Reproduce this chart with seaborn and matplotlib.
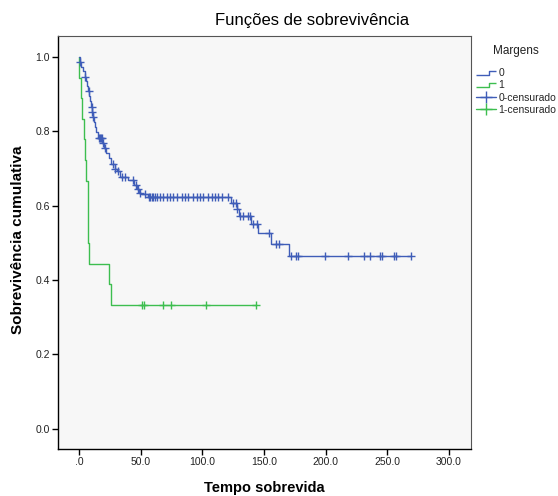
import matplotlib
matplotlib.use("Agg")
import matplotlib.pyplot as plt
from matplotlib.path import Path
from matplotlib.lines import Line2D
import numpy as np
import pandas as pd
import seaborn as sns

# ---------------- data ----------------
# group 0: Kaplan-Meier step function (time, cumulative survival)
g0_time = [0, 0.5, 2, 3, 4.5, 5.5, 6.5, 7.5, 8.5, 9.3, 10, 10.5, 11.2, 12, 13, 14,
           15.5, 19, 20.5, 22, 24, 26, 29, 31, 33, 40, 45, 47, 49, 50, 56,
           123.5, 128, 130, 139.5, 145, 156, 170, 269]
g0_surv = [1.0, 0.987, 0.974, 0.961, 0.947, 0.934, 0.921, 0.907, 0.894, 0.880, 0.866,
           0.853, 0.839, 0.825, 0.811, 0.797, 0.783, 0.769, 0.755, 0.741, 0.727, 0.713,
           0.699, 0.692, 0.678, 0.668, 0.656, 0.645, 0.635, 0.632, 0.623,
           0.608, 0.590, 0.571, 0.550, 0.526, 0.497, 0.465, 0.465]
# group 0: censored times
g0_cens = [0.8, 4.8, 8.4, 10.2, 10.8, 11.6, 16.5, 17.0, 17.5, 18.4, 19.7, 21.0, 27.8,
           29.2, 31.9, 34.6, 37.3, 44.0, 46.2, 47.6, 49.5, 53.5, 57.0,
           57.6, 58.9, 60.3, 61.6, 63.0, 65.7, 68.4, 71.1, 73.8, 76.5, 79.2, 83.3, 86.0,
           88.6, 92.7, 95.4, 98.1, 100.8, 104.9, 107.6, 110.3, 113.0, 115.7, 121.1,
           125.2, 127.3, 128.4, 130.6, 133.3, 137.4, 138.7, 141.4, 144.1, 154.4, 159.8,
           162.2, 172.0, 176.0, 177.9, 199.5, 218.4, 231.4, 236.0, 244.0, 245.5, 255.7,
           257.1, 269.0]

# group 1
g1_time = [0, 0.3, 1.5, 2.4, 4.1, 5.0, 5.7, 7.3, 8.4, 24.3, 25.7, 143.3]
g1_surv = [1.0, 0.944, 0.889, 0.833, 0.778, 0.722, 0.667, 0.500, 0.444, 0.389, 0.333, 0.333]
g1_cens = [50.9, 52.5, 67.9, 74.9, 103.0, 143.3]

groups = ["0", "1"]
legend_labels = ["0", "1", "0-censurado", "1-censurado"]
title = "Funções de sobrevivência"
xlabel = "Tempo sobrevida"
ylabel = "Sobrevivência cumulativa"
legend_title = "Margens"
xticks = [0, 50, 100, 150, 200, 250, 300]
xticklabels = [".0", "50.0", "100.0", "150.0", "200.0", "250.0", "300.0"]
yticks = [0.0, 0.2, 0.4, 0.6, 0.8, 1.0]
yticklabels = ["0.0", "0.2", "0.4", "0.6", "0.8", "1.0"]

# ---------------- styling ----------------
BLUE = "#3F5DB8"
GREEN = "#3DBE4F"
colors = {"0": BLUE, "1": GREEN}

sns.set_theme(style="white")
plt.rcParams["font.family"] = ["Liberation Sans", "DejaVu Sans"]


def step_value(times, survs, t):
    idx = np.searchsorted(np.asarray(times), t, side="right") - 1
    return np.asarray(survs)[idx]


curves = pd.concat([
    pd.DataFrame({"time": g0_time, "surv": g0_surv, "grp": "0"}),
    pd.DataFrame({"time": g1_time, "surv": g1_surv, "grp": "1"}),
], ignore_index=True)

cens = pd.concat([
    pd.DataFrame({"time": g0_cens, "surv": [step_value(g0_time, g0_surv, t) for t in g0_cens], "grp": "0"}),
    pd.DataFrame({"time": g1_cens, "surv": [step_value(g1_time, g1_surv, t) for t in g1_cens], "grp": "1"}),
], ignore_index=True)

fig = plt.figure(figsize=(5.58, 4.96), dpi=100)
ax = fig.add_axes([58 / 558, 47 / 496, (471 - 58) / 558, (449 - 36) / 496])
ax.set_facecolor("#F7F7F7")

for g in ["1", "0"]:
    d = curves[curves.grp == g]
    sns.lineplot(data=d, x="time", y="surv", ax=ax, color=colors[g], lw=1.0,
                 drawstyle="steps-post", estimator=None, sort=False, legend=False)
for g in ["1", "0"]:
    d = cens[cens.grp == g]
    sns.scatterplot(data=d, x="time", y="surv", ax=ax, color=colors[g], marker="+",
                    s=40, linewidth=1.0, legend=False, zorder=3)

ax.set_xlim(-17, 318)
ax.set_ylim(-0.054, 1.056)
ax.set_xticks(xticks)
ax.set_xticklabels(xticklabels)
ax.set_yticks(yticks)
ax.set_yticklabels(yticklabels)
ax.tick_params(axis="both", which="major", direction="out", length=4, width=1,
               color="black", labelsize=7.5, labelcolor="#222222", pad=2,
               bottom=True, left=True, top=False, right=False)

for s in ["left", "bottom"]:
    ax.spines[s].set_color("black")
    ax.spines[s].set_linewidth(1.0)
for s in ["top", "right"]:
    ax.spines[s].set_color("#555555")
    ax.spines[s].set_linewidth(0.8)

ax.set_xlabel(xlabel, fontsize=10.5, fontweight="bold", color="black", va="center")
ax.set_ylabel(ylabel, fontsize=11, fontweight="bold", color="black", va="center")
ax.xaxis.set_label_coords(0.5, -(488 - 449) / 413)
ax.yaxis.set_label_coords(-(58 - 18) / 413, (449 - 240) / 413)

fig.text(312 / 558, 1 - 20 / 496, title, ha="center", va="center", fontsize=12,
         color="black")

# legend
step_path = Path([(-1.0, -0.16), (0.25, -0.16), (0.25, 0.16), (1.0, 0.16)],
                 [Path.MOVETO, Path.LINETO, Path.LINETO, Path.LINETO])
handles = [
    Line2D([], [], color=BLUE, marker=step_path, linestyle="none", markersize=15,
           fillstyle="none", markeredgewidth=1.0),
    Line2D([], [], color=GREEN, marker=step_path, linestyle="none", markersize=15,
           fillstyle="none", markeredgewidth=1.0),
    Line2D([], [], color=BLUE, marker="+", linestyle="-", lw=1.0, markersize=9,
           markeredgewidth=1.0),
    Line2D([], [], color=GREEN, marker="+", linestyle="-", lw=1.0, markersize=9,
           markeredgewidth=1.0),
]
leg = fig.legend(handles, legend_labels, title=legend_title, loc="upper left",
                 bbox_to_anchor=(469 / 558, 1 - 38 / 496), frameon=False,
                 fontsize=7.5, title_fontsize=8.5, handlelength=1.9, handletextpad=0.2,
                 labelspacing=0.2, borderpad=0.2)
leg._legend_box.align = "center"
leg._legend_box.sep = 8
leg.get_title().set_color("#222222")

fig.savefig("out.png", dpi=100)
